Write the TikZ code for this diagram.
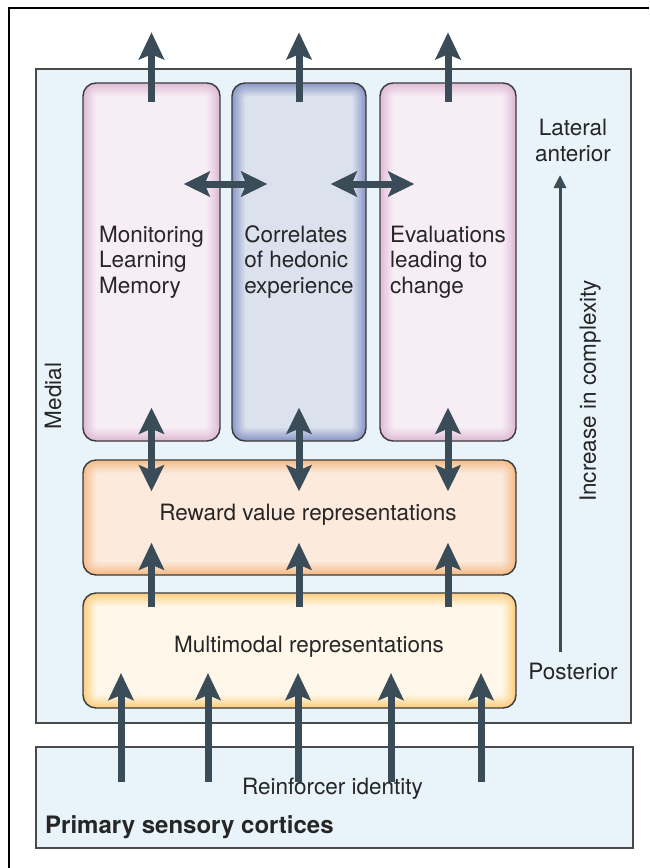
\documentclass[tikz,border=0pt]{standalone}
\usepackage{fontspec}
\setmainfont{TeX Gyre Heros}
\usetikzlibrary{arrows.meta,calc}
\definecolor{panelfill}{HTML}{E8F3FA}
\definecolor{panelline}{HTML}{4A4A4A}
\definecolor{boxline}{HTML}{3A3A3A}
\definecolor{arrowc}{HTML}{3A4C58}
\definecolor{txt}{HTML}{262626}
\definecolor{pinkE}{HTML}{E0BCD6}
\definecolor{pinkC}{HTML}{F7EEF5}
\definecolor{blueE}{HTML}{8A99C6}
\definecolor{blueC}{HTML}{DCE1EE}
\definecolor{rewE}{HTML}{F5BD8A}
\definecolor{rewC}{HTML}{FCEADD}
\definecolor{mmE}{HTML}{FBCF80}
\definecolor{mmC}{HTML}{FFF8EA}
\newcommand\glowrect[6]{%
  \foreach \i in {0,...,10}{%
    \pgfmathsetmacro\ins{\i*1.3}%
    \pgfmathsetmacro\rr{max(13-\i*1.0,2)}%
    \pgfmathtruncatemacro\pc{\i*10}%
    \fill[#6!\pc!#5, rounded corners=\rr pt] (#1+\ins,#2+\ins) rectangle (#3-\ins,#4-\ins);
  }%
}
\begin{document}
\begin{tikzpicture}[x=1pt,y=-1pt,
  panel/.style={draw=panelline, fill=panelfill, line width=1.5pt},
  box/.style={draw=boxline, line width=1.4pt, rounded corners=13pt, inner sep=0pt},
  lbl/.style={text=txt, font=\fontsize{22.5}{25.5}\selectfont, inner sep=0pt},
  big/.style={draw=arrowc, line width=7pt, -{Stealth[length=27pt,width=25pt,inset=5pt]}},
  dbl/.style={draw=arrowc, line width=7pt, {Stealth[length=26pt,width=25pt,inset=5pt]}-{Stealth[length=26pt,width=25pt,inset=5pt]}},
  thin/.style={draw=arrowc, line width=3pt, -{Triangle[length=13pt,width=12pt]}}
]
\useasboundingbox (0,0) rectangle (649,868);
\fill[white] (0,0) rectangle (649,868);
% outer frame (only top and left visible)
\draw[line width=2pt, black] (9,868) -- (9,8) -- (649,8);
% panels
\node[panel, minimum width=595pt, minimum height=654pt, inner sep=0pt] (ofc) at (333.5,396) {};
\node[panel, minimum width=597pt, minimum height=101pt, inner sep=0pt] (sens) at (334.5,797.5) {};
% glows
\glowrect{83}{83}{220}{441}{pinkE}{pinkC}
\glowrect{232}{83}{366}{441}{blueE}{blueC}
\glowrect{380}{83}{516}{441}{pinkE}{pinkC}
\glowrect{83}{460}{516}{575}{rewE}{rewC}
\glowrect{83}{593}{516}{708}{mmE}{mmC}
% boxes
\node[box, minimum width=137pt, minimum height=358pt, lbl, align=left] (mon) at (151.5,262) {Monitoring\\Learning\\Memory};
\node[box, minimum width=134pt, minimum height=358pt, lbl, align=left] (hed) at (299,262) {Correlates\\of hedonic\\experience};
\node[box, minimum width=136pt, minimum height=358pt, lbl, align=left] (eval) at (448,262) {Evaluations\\leading to\\change};
\node[box, minimum width=433pt, minimum height=115pt] (rew) at (299.5,517.5) {};
\node[box, minimum width=433pt, minimum height=115pt] (mm) at (299.5,650.5) {};
\node[lbl] (rewt) at (308,515) {Reward value representations};
\node[lbl] (mmt) at (309,647) {Multimodal representations};
% labels
\node[lbl, align=center] (lat) at (573,140.5) {Lateral\\anterior};
\node[lbl] (post) at (573,671) {Posterior};
\node[lbl, rotate=90] (inc) at (590,391) {Increase in complexity};
\node[lbl, rotate=90] (med) at (53,396) {Medial};
\node[lbl] (rid) at (332.5,789) {Reinforcer identity};
\node[lbl, font=\fontsize{24}{26}\selectfont\bfseries, anchor=west] (psc) at (45,827) {Primary sensory cortices};
% complexity arrow
\coordinate (cb) at (560,652);
\coordinate (ct) at (560,175);
\draw[thin] (cb) -- (ct);
% top outgoing arrows
\foreach \n in {mon,hed,eval}{
  \draw[big] ($(\n.north)+(0,20)$) -- ($(\n.north)+(0,-50)$);
}
% horizontal double arrows
\draw[dbl] ($(mon.east)+(-37,-78)$) -- ($(hed.west)+(36,-78)$);
\draw[dbl] ($(hed.east)+(-36,-78)$) -- ($(eval.west)+(35,-78)$);
% top boxes <-> reward, multimodal -> reward
\foreach \n in {mon,hed,eval}{
  \draw[dbl] ($(\n.south)+(0,-34)$) -- ($(\n.south |- rew.north)+(0,32)$);
  \draw[big] ($(\n.south |- mm.north)+(0,15)$) -- ($(\n.south |- rew.south)+(0,-33)$);
}
% sensory -> multimodal
\foreach \x/\k in {121/1,208/2,298/3,391/4,481/5}{
  \coordinate (s\k) at (\x,782);
  \coordinate (m\k) at (\x,673);
  \draw[big] (s\k) -- (m\k);
}
\end{tikzpicture}
\end{document}
